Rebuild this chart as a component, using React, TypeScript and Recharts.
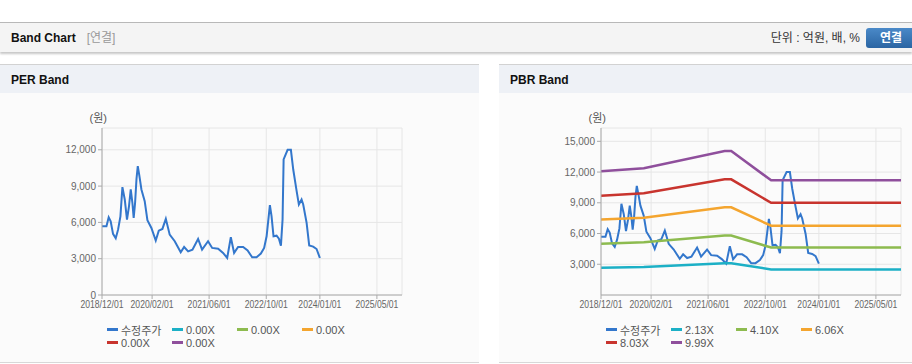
import React from "react";
import { LineChart, Line, XAxis, YAxis, CartesianGrid } from "recharts";

// 수정주가 (adjusted price), shared by both bands
const priceDates = [
  "2018-12-01", "2019-01-08", "2019-01-27", "2019-02-13", "2019-03-05", "2019-03-28", "2019-04-17",
  "2019-05-07", "2019-05-24", "2019-06-13", "2019-07-02", "2019-07-19", "2019-08-03", "2019-08-17",
  "2019-08-28", "2019-09-09", "2019-09-21", "2019-10-02", "2019-10-16", "2019-11-02", "2019-11-30",
  "2019-12-23", "2020-01-26", "2020-03-03", "2020-03-29", "2020-04-29", "2020-05-28", "2020-06-30",
  "2020-08-12", "2020-10-02", "2020-10-31", "2020-12-04", "2021-01-10", "2021-02-27", "2021-04-02",
  "2021-05-23", "2021-06-27", "2021-08-17", "2021-09-28", "2021-11-02", "2021-12-03", "2021-12-31",
  "2022-02-03", "2022-03-18", "2022-04-25", "2022-06-03", "2022-07-10", "2022-08-16", "2022-09-13",
  "2022-10-04", "2022-11-01", "2022-11-15", "2022-12-02", "2022-12-28", "2023-01-17", "2023-02-03",
  "2023-02-17", "2023-02-26", "2023-04-01", "2023-04-29", "2023-05-19", "2023-06-17", "2023-07-06",
  "2023-07-29", "2023-08-12", "2023-09-10", "2023-10-02", "2023-11-05", "2023-12-04", "2024-01-01",
];
const priceValues = [
  5680, 5680, 6420, 6090, 5050, 4690, 5400, 6500, 8910, 7890,
  6230, 7330, 8720, 7620, 6370, 7600, 9600, 10650, 9820, 8720,
  7750, 6180, 5540, 4500, 5320, 5460, 6290, 4990, 4440, 3530,
  3970, 3610, 3750, 4630, 3750, 4440, 3890, 3830, 3480, 3060,
  4770, 3480, 3970, 3970, 3690, 3110, 3110, 3420, 3890, 4850,
  7420, 6510, 4850, 4900, 4660, 4080, 6230, 11200, 12000, 12000,
  10370, 8580, 7475, 7890, 7475, 5960, 4100, 4000, 3800, 3060,
];

// PBR band lines
const bandDates = ["2018-12-01", "2019-12-01", "2021-10-20", "2021-12-15", "2022-11-20", "2025-12-01"];
const pbr213 = [2670, 2730, 3100, 3100, 2500, 2500];
const pbr410 = [5010, 5140, 5800, 5800, 4630, 4630];
const pbr606 = [7360, 7550, 8560, 8560, 6760, 6760];
const pbr803 = [9690, 9940, 11290, 11290, 9000, 9000];
const pbr999 = [12070, 12380, 14060, 14060, 11190, 11190];

const xTickDates = ["2018-12-01", "2020-02-01", "2021-06-01", "2022-10-01", "2024-01-01", "2025-05-01"];
const xRange = ["2018-12-01", "2025-12-01"];

const perTicks = [0, 3000, 6000, 9000, 12000];
const pbrTicks = [3000, 6000, 9000, 12000, 15000];

const perLabels = ["수정주가", "0.00X", "0.00X", "0.00X", "0.00X", "0.00X"];
const pbrLabels = ["수정주가", "2.13X", "4.10X", "6.06X", "8.03X", "9.99X"];
const colors = ["#3377cc", "#1cb0c6", "#8dbb4f", "#f4a52f", "#c8342e", "#8f4f9c"];

const FONT = '"Liberation Sans", Arial, "Noto Sans CJK KR", sans-serif';

const toTime = (d: string) => {
  const [y, m, dd] = d.split("-").map(Number);
  return Date.UTC(y, m - 1, dd);
};
const pair = (dates: string[], values: number[]) =>
  dates.map((d, i) => ({ t: toTime(d), v: values[i] }));

const fmtDate = (t: number) => {
  const d = new Date(t);
  const p = (n: number) => n.toString().padStart(2, "0");
  return `${d.getUTCFullYear()}/${p(d.getUTCMonth() + 1)}/${p(d.getUTCDate())}`;
};

const DateTick = (props: any) => {
  const { x, y, payload } = props;
  return (
    <text
      x={x}
      y={y}
      dy="0.71em"
      textAnchor="middle"
      fontSize={10}
      fill="#666"
      fontFamily={FONT}
      textLength={43}
      lengthAdjust="spacingAndGlyphs"
    >
      {fmtDate(payload.value)}
    </text>
  );
};

const UnitLabel = (props: any) => {
  const { viewBox } = props;
  return (
    <text
      x={viewBox.x + viewBox.width + 5}
      y={viewBox.y - 6}
      textAnchor="end"
      fontSize={11}
      fill="#555"
      fontFamily={FONT}
    >
      (원)
    </text>
  );
};

interface PanelProps {
  title: string;
  left: number;
  width: number;
  labels: string[];
  bands: { t: number; v: number }[][];
  yMax: number;
  yTicks: number[];
}

const BandPanel = ({ title, left, width, labels, bands, yMax, yTicks }: PanelProps) => {
  const series = [pair(priceDates, priceValues), ...bands];
  const xDomain = [toTime(xRange[0]), toTime(xRange[1])];
  const xTicks = xTickDates.map(toTime);

  return (
    <div style={{ position: "absolute", left, top: 64, width, height: 299, overflow: "hidden" }}>
      <div
        style={{
          position: "absolute",
          left: 0,
          top: 0,
          width,
          height: 28,
          borderTop: "1px solid #d2d2d2",
          background: "#eef1f6",
        }}
      >
        <span
          style={{
            position: "absolute",
            left: 11,
            top: 8,
            fontSize: 12,
            lineHeight: "14px",
            fontWeight: "bold",
            color: "#111",
          }}
        >
          {title}
        </span>
      </div>
      <div
        style={{
          position: "absolute",
          left: 0,
          top: 29,
          width,
          height: 269,
          background: "#fbfbfb",
          borderBottom: "1px solid #d8d8d8",
        }}
      >
        <LineChart width={412} height={232} margin={{ top: 35, right: 10, bottom: 0, left: 42 }}>
          <CartesianGrid stroke="#e6e6e6" />
          <XAxis
            dataKey="t"
            type="number"
            scale="time"
            domain={xDomain}
            ticks={xTicks}
            interval={0}
            height={30}
            tick={<DateTick />}
            tickSize={4}
            tickMargin={2}
            stroke="#aaa"
            allowDataOverflow
          />
          <XAxis
            xAxisId="top"
            orientation="top"
            dataKey="t"
            type="number"
            domain={xDomain}
            height={0}
            tick={false}
            tickLine={false}
            stroke="#bbb"
            allowDataOverflow
          />
          <YAxis
            type="number"
            domain={[0, yMax]}
            ticks={yTicks}
            interval={0}
            width={60}
            tickSize={4}
            tickMargin={2}
            stroke="#aaa"
            tick={{ fontSize: 10, fill: "#666", fontFamily: FONT }}
            tickFormatter={(v: number) => v.toLocaleString("en-US")}
            label={<UnitLabel />}
            allowDataOverflow
          />
          <YAxis
            yAxisId="right"
            orientation="right"
            type="number"
            domain={[0, yMax]}
            width={0}
            tick={false}
            tickLine={false}
            stroke="#bbb"
            allowDataOverflow
          />
          {series.map((d, i) => (
            <Line
              key={i}
              data={d}
              dataKey="v"
              name={labels[i]}
              type="linear"
              stroke={colors[i]}
              strokeWidth={i === 0 ? 2 : 2.5}
              dot={false}
              activeDot={false}
              isAnimationActive={false}
            />
          ))}
        </LineChart>
        <div
          style={{
            position: "absolute",
            left: 107,
            top: 230,
            display: "grid",
            gridTemplateColumns: "65px 65px 65px 65px",
            gridAutoRows: "13px",
            fontSize: 11,
            color: "#555",
          }}
        >
          {labels.map((l, i) => (
            <div key={i} style={{ display: "flex", alignItems: "center", whiteSpace: "nowrap" }}>
              <span
                style={{ display: "inline-block", width: 11, height: 3, background: colors[i], marginRight: 3 }}
              />
              {l}
            </div>
          ))}
        </div>
      </div>
    </div>
  );
};

export default function App() {
  const pbrBands = [pbr213, pbr410, pbr606, pbr803, pbr999].map((v) => pair(bandDates, v));
  const perBands = [[], [], [], [], []];

  return (
    <div
      style={{
        position: "relative",
        width: 912,
        height: 364,
        overflow: "hidden",
        background: "#fff",
        fontFamily: FONT,
      }}
    >
      <style>{`body{margin:0;}`}</style>
      <div
        style={{
          position: "absolute",
          left: 0,
          top: 22,
          width: 912,
          height: 29,
          borderTop: "1px solid #b8b8b8",
          background: "#f4f4f4",
          boxShadow: "0 2px 2px rgba(0,0,0,0.22)",
        }}
      >
        <span style={{ position: "absolute", left: 11, top: 8, fontSize: 12, lineHeight: "14px" }}>
          <b style={{ color: "#111" }}>Band Chart</b>
          <span style={{ color: "#999", marginLeft: 11 }}>[연결]</span>
        </span>
        <span
          style={{
            position: "absolute",
            right: 52,
            top: 8,
            fontSize: 12,
            lineHeight: "14px",
            color: "#333",
          }}
        >
          단위 : 억원, 배, %
        </span>
        <div
          style={{
            position: "absolute",
            left: 866,
            top: 5,
            width: 50,
            height: 20,
            borderRadius: 3,
            background: "linear-gradient(#4a89c8, #2b65a3)",
            color: "#fff",
            fontSize: 12,
            fontWeight: "bold",
            lineHeight: "20px",
            textAlign: "center",
          }}
        >
          연결
        </div>
      </div>
      <BandPanel
        title="PER Band"
        left={0}
        width={479}
        labels={perLabels}
        bands={perBands}
        yMax={13800}
        yTicks={perTicks}
      />
      <BandPanel
        title="PBR Band"
        left={499}
        width={413}
        labels={pbrLabels}
        bands={pbrBands}
        yMax={16300}
        yTicks={pbrTicks}
      />
    </div>
  );
}
